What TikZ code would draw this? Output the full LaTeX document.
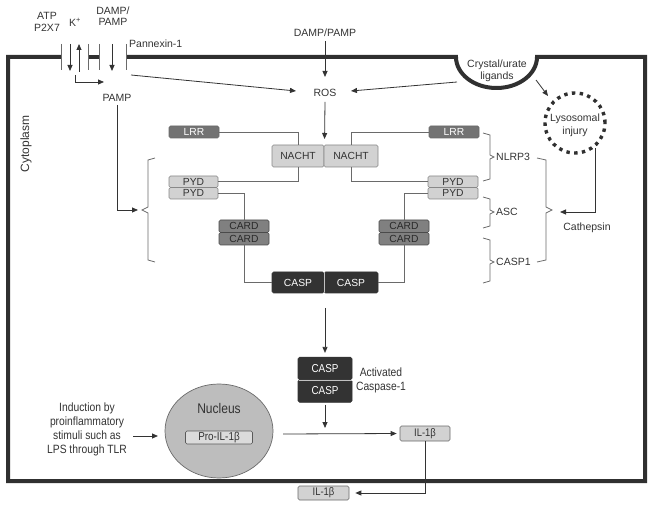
\documentclass[tikz,border=0pt]{standalone}
\usepackage{fontspec}
\setmainfont{Liberation Sans}
\newfontfamily\narrowfont[FakeStretch=0.86]{Liberation Sans}
\usetikzlibrary{arrows.meta,shapes.geometric}
\definecolor{cellc}{HTML}{303030}
\definecolor{txt}{HTML}{333333}
\definecolor{linec}{HTML}{6A6A6A}
\definecolor{arrc}{HTML}{333333}
\definecolor{lightf}{HTML}{D2D2D2}
\definecolor{midf}{HTML}{808080}
\definecolor{darkf}{HTML}{333333}
\definecolor{nucf}{HTML}{BDBDBD}
\tikzset{
  thinl/.style={draw=linec, line width=0.8pt},
  arr/.style={draw=arrc, line width=0.8pt, -{Triangle[length=6pt,width=5pt]}},
  bx/.style={draw=#1, rounded corners=1.5pt, inner sep=0pt, line width=0.7pt, font=\fontsize{10.3}{11}\selectfont},
  lightbox/.style={bx=linec!80, fill=lightf, text=txt},
  lrrbox/.style={bx=linec, fill=midf!90!black, text=white},
  cardbox/.style={bx=linec!70!black, fill=midf, text=txt!80!black},
  caspbox/.style={bx=darkf, fill=darkf, text=white},
  lbl/.style={text=txt, inner sep=1pt},
  nar/.style={text=txt, inner sep=1pt, font=\narrowfont\fontsize{12}{14}\selectfont},
}
\begin{document}
\begin{tikzpicture}[x=1pt,y=-1pt, font=\fontsize{10.5}{11.5}\selectfont]
\useasboundingbox (0,0) rectangle (654,505);

% cell membrane
\draw[cellc, line width=4pt, line join=miter]
  (61,57) -- (8,57) -- (8,481) -- (645,481) -- (645,57) -- (537,57)
  .. controls (537,74) and (519,88) .. (496.5,88)
  .. controls (474,88) and (456,74) .. (456,57) -- (126,57);
\draw[cellc, line width=4pt] (88,57) -- (99,57);

% channels
\foreach \xx in {61,88,99,126} \draw[thinl] (\xx,44) -- (\xx,70);
\coordinate (c1t) at (70,44); \coordinate (c1b) at (70,71);
\coordinate (c2t) at (79,44); \coordinate (c2b) at (79,72);
\coordinate (c3t) at (112,44); \coordinate (c3b) at (112,71);
\draw[arr] (c1t) -- (c1b);
\draw[arr] (c2b) -- (c2t);
\draw[arr] (c3t) -- (c3b);
\coordinate (kst) at (75,75); \coordinate (kend) at (104,82);
\draw[arr] (kst) |- (kend);

% top labels
\node[lbl, align=center] (atp) at (47,22) {ATP\\P2X7};
\node[lbl] (kp) at (75,22) {K\textsuperscript{+}};
\node[lbl, align=center] (dpa) at (113,16) {DAMP/\\PAMP};
\node[lbl, anchor=west] (pannexin) at (128,44) {Pannexin-1};
\node[lbl] (pamp) at (117,98) {PAMP};
\node[lbl] (damp) at (325,33) {DAMP/PAMP};
\node[lbl] (ros) at (325,93) {ROS};
\node[lbl, align=center] (crystal) at (497,71) {Crystal/urate\\ligands};
\node[lbl, rotate=90, font=\fontsize{12}{13}\selectfont] (cyto) at (26,144) {Cytoplasm};

% lysosome
\node[circle, minimum size=60pt, draw=cellc, line width=3.4pt, dash pattern=on 3.4pt off 4.4pt] (lyso) at (575,123) {};
\node[lbl, align=center, font=\fontsize{10.5}{13}\selectfont] (lysot) at (575,125) {Lysosomal\\injury};
\node[lbl] (cath) at (587,228) {Cathepsin};

% arrows to ROS
\coordinate (pannex) at (131,75);
\coordinate (crysl) at (457,82);
\coordinate (rosl) at (296,91);
\coordinate (rosr) at (351,91);
\draw[arr] (pannex) -- (rosl);
\draw[arr] (crysl) -- (rosr);
\draw[arr] (damp.south) ++(0,3) -- (325,77);
\coordinate (crysr) at (536,80);
\coordinate (lysin) at (548,96);
\draw[arr] (crysr) -- (lysin);

% inflammasome boxes
\node[lightbox, minimum width=52pt, minimum height=22pt] (nl) at (298,156) {NACHT};
\node[lightbox, minimum width=54pt, minimum height=22pt] (nr) at (351,156) {NACHT};
\node[lrrbox, minimum width=50pt, minimum height=12pt] (lrrl) at (194,132) {LRR};
\node[lrrbox, minimum width=50pt, minimum height=12pt] (lrrr) at (454,132) {LRR};
\node[lightbox, minimum width=49pt, minimum height=11.5pt] (pydl1) at (193.5,181.75) {PYD};
\node[lightbox, minimum width=49pt, minimum height=11.5pt] (pydl2) at (193.5,193.25) {PYD};
\node[lightbox, minimum width=50pt, minimum height=11.5pt] (pydr1) at (453,181.75) {PYD};
\node[lightbox, minimum width=50pt, minimum height=11.5pt] (pydr2) at (453,193.25) {PYD};
\node[cardbox, minimum width=50pt, minimum height=12.5pt] (cardl1) at (244,226.25) {CARD};
\node[cardbox, minimum width=50pt, minimum height=12.5pt] (cardl2) at (244,238.75) {CARD};
\node[cardbox, minimum width=50pt, minimum height=12.5pt] (cardr1) at (404,226.25) {CARD};
\node[cardbox, minimum width=50pt, minimum height=12.5pt] (cardr2) at (404,238.75) {CARD};
\node[caspbox, minimum width=52pt, minimum height=21pt] (caspl) at (298,282.5) {CASP};
\node[caspbox, minimum width=54pt, minimum height=21pt] (caspr) at (351,282.5) {CASP};
\draw[white!70!darkf, line width=0.6pt] (324.5,272.5) -- (324.5,292.5);

\draw[arr, shorten >=6pt] (ros.south) ++(0,4) -- (324.5,145);
\draw[thinl] (lrrl.east) -| (nl.north);
\draw[thinl] (lrrr.west) -| (nr.north);
\draw[thinl] (nl.south) |- (pydl1.east);
\draw[thinl] (nr.south) |- (pydr1.west);
\draw[thinl] (pydl2.east) -| (cardl1.north);
\draw[thinl] (pydr2.west) -| (cardr1.north);
\draw[thinl] (cardl2.south) |- (caspl.west);
\draw[thinl] (cardr2.south) |- (caspr.east);

% PAMP to left brace
\coordinate (lbtip) at (141,210);
\draw[arr, shorten >=3pt] (pamp.south) ++(0,2) |- (lbtip);
\draw[thinl] (155,158) -- (148,160) -- (148,207) -- (142,210) -- (148,213) -- (148,260) -- (155,262);

% right brackets
\draw[thinl] (483,133) -- (490,135) -- (490,155) -- (494,157) -- (490,159) -- (490,179) -- (483,181);
\draw[thinl] (483,197) -- (490,199) -- (490,210) -- (494,212) -- (490,214) -- (490,226) -- (483,228);
\draw[thinl] (483,238) -- (490,240) -- (490,260) -- (494,262) -- (490,264) -- (490,281) -- (483,283);
\node[lbl, anchor=west] (nlrp3) at (495,157) {NLRP3};
\node[lbl, anchor=west] (asc) at (495,212) {ASC};
\node[lbl, anchor=west] (casp1) at (495,262) {CASP1};
\draw[thinl] (537,158) -- (546,160) -- (546,207) -- (552,210) -- (546,213) -- (546,260) -- (537,262);
\coordinate (cathtip) at (560,212);
\draw[arr] (lyso.-50) ++(0,1) |- (cathtip);

% activated caspase-1
\node[caspbox, minimum width=54pt, minimum height=22.5pt, font=\narrowfont\fontsize{11.5}{12}\selectfont] (ac1) at (325,368.5) {CASP};
\node[caspbox, minimum width=54pt, minimum height=22.5pt, font=\narrowfont\fontsize{11.5}{12}\selectfont] (ac2) at (325,391) {CASP};
\draw[white!70!darkf, line width=0.6pt] (298.5,380) -- (351.5,380);
\draw[arr, shorten >=4pt] (325,308) -- (ac1.north);
\coordinate (ilin) at (325,428);
\draw[arr, shorten <=2pt] (ac2.south) -- (ilin);
\node[nar, align=center] (actl) at (381,380) {Activated\\Caspase-1};

% nucleus
\node[ellipse, minimum width=108pt, minimum height=94pt, draw=linec, fill=nucf, line width=0.7pt] (nuc) at (219,431) {};
\node[nar, font=\narrowfont\fontsize{14}{15}\selectfont] (nuct) at (219,408) {Nucleus};
\node[bx=cellc!80, fill=lightf!80!white, text=txt, minimum width=67pt, minimum height=13pt, font=\narrowfont\fontsize{11.5}{12}\selectfont] (proil) at (219,437.5) {Pro-IL-1β};

\node[nar, align=center] (induct) at (87,429) {Induction by\\proinflammatory\\stimuli such as\\LPS through TLR};
\coordinate (ind1) at (133,436); \coordinate (ind2) at (158,436);
\draw[arr] (ind1) -- (ind2);

\node[bx=linec, fill=lightf, text=txt, minimum width=50pt, minimum height=15pt, font=\narrowfont\fontsize{11}{12}\selectfont] (il1) at (425,433.5) {IL-1β};
\node[bx=linec, fill=lightf, text=txt, minimum width=51pt, minimum height=14pt, font=\narrowfont\fontsize{11}{12}\selectfont] (il1b) at (323.5,493) {IL-1β};
\coordinate (nucout) at (283,434);
\draw[arr, shorten >=3pt] (nucout) -- (il1.west);
\draw[arr, shorten >=6pt] (il1.south) |- (il1b.east);
\end{tikzpicture}
\end{document}
